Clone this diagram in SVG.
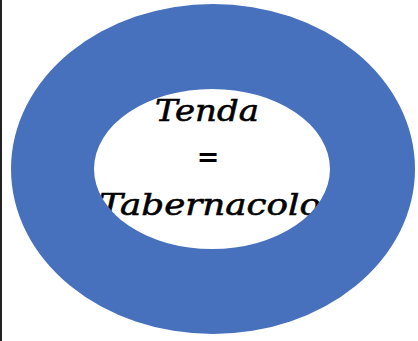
<svg xmlns="http://www.w3.org/2000/svg" width="418" height="341" viewBox="0 0 418 341">
<style>
.t{font-family:"DejaVu Serif","Liberation Serif",serif;font-style:italic;fill:#000;stroke:#000;stroke-width:0.6;text-anchor:middle}
.eq{font-family:"DejaVu Sans","Liberation Sans",sans-serif;font-size:27px;font-weight:bold;fill:#000;text-anchor:middle}
</style>
<defs>
<clipPath id="inner"><ellipse cx="212" cy="169" rx="118" ry="80"/></clipPath>
</defs>
<rect width="418" height="341" fill="#fff"/>
<line x1="1" y1="0" x2="1" y2="341" stroke="#222" stroke-width="2"/>
<g id="ring">
<path d="M11,169 a202,165 0 1,0 404,0 a202,165 0 1,0 -404,0 Z M94,169 a118,80 0 1,0 236,0 a118,80 0 1,0 -236,0 Z" fill="#4770BD" fill-rule="evenodd"/>
</g>
<g id="label" clip-path="url(#inner)">
<text class="t" x="207" y="121" font-size="30" textLength="104" lengthAdjust="spacingAndGlyphs">Tenda</text>
<text class="eq" x="208" y="166">=</text>
<text class="t" x="210" y="215" font-size="30" textLength="222" lengthAdjust="spacingAndGlyphs">Tabernacolo</text>
</g>
</svg>
